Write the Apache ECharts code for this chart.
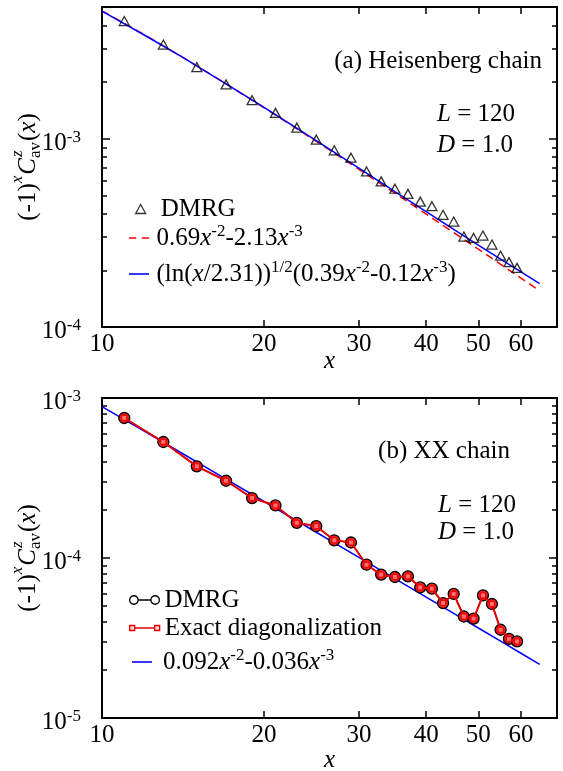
<!DOCTYPE html>
<html><head><meta charset="utf-8">
<script src="https://cdn.jsdelivr.net/npm/echarts@6/dist/echarts.min.js"></script>
<style>html,body{margin:0;padding:0;background:#fff}#c{width:563px;height:771px}</style>
</head><body><div id="c"></div>
<script>
// ---------- data ----------
const sites = [11,13,15,17,19,21,23,25,27,29,31,33,35,37,39,41,43,45,47,49,51,53,55,57,59];
const heisDMRG = [4.21e-3,3.16e-3,2.40e-3,1.94e-3,1.60e-3,1.37e-3,1.144e-3,0.988e-3,0.867e-3,0.792e-3,
  0.670e-3,0.593e-3,0.542e-3,0.509e-3,0.463e-3,0.438e-3,0.394e-3,0.363e-3,0.302e-3,0.297e-3,
  0.306e-3,0.274e-3,0.239e-3,0.221e-3,0.206e-3];
const fitX = [10,12,14,17,20,25,30,35,40,45,50,55,60,65];
const heisFitPower = [4.77e-3,3.559e-3,2.744e-3,1.954e-3,1.459e-3,0.968e-3,0.6878e-3,0.514e-3,0.398e-3,0.3174e-3,0.259e-3,0.2153e-3,0.1818e-3,0.1556e-3];
const heisFitLog = [4.75e-3,3.54e-3,2.74e-3,1.955e-3,1.465e-3,0.975e-3,0.697e-3,0.524e-3,0.410e-3,0.330e-3,0.272e-3,0.229e-3,0.196e-3,0.170e-3];
const xxDMRG = [7.50e-4,5.31e-4,3.74e-4,3.04e-4,2.37e-4,2.13e-4,1.66e-4,1.58e-4,1.29e-4,1.25e-4,
  9.08e-5,7.87e-5,7.61e-5,7.68e-5,6.55e-5,6.43e-5,5.23e-5,5.96e-5,4.31e-5,4.18e-5,
  5.84e-5,5.16e-5,3.56e-5,3.12e-5,3.01e-5];
const xxED = [7.50e-4,5.31e-4,3.74e-4,3.04e-4,2.37e-4,2.13e-4,1.66e-4,1.58e-4,1.29e-4,1.25e-4,
  9.08e-5,7.87e-5,7.61e-5,7.68e-5,6.55e-5,6.43e-5,5.23e-5,5.96e-5,4.31e-5,4.18e-5,
  5.84e-5,5.16e-5,3.56e-5,3.12e-5,3.01e-5];
const xxFit = [8.84e-4,6.18e-4,4.563e-4,3.11e-4,2.255e-4,1.449e-4,1.0089e-4,0.7426e-4,0.5694e-4,0.4503e-4,0.3651e-4,0.3019e-4,0.2539e-4,0.2165e-4];
const xTickLabels = [10,20,30,40,50,60];
const xTickMarks = [20,30,40,50,60];
const yLabelsA = [1e-4,1e-3];
const yMajorA = [1e-3];
const yMinorA = [2e-4,3e-4,4e-4,5e-4,6e-4,7e-4,8e-4,9e-4,2e-3,3e-3,4e-3];
const yLabelsB = [1e-5,1e-4,1e-3];
const yMajorB = [1e-4];
const yMinorB = [2e-5,3e-5,4e-5,5e-5,6e-5,7e-5,8e-5,9e-5,2e-4,3e-4,4e-4,5e-4,6e-4,7e-4,8e-4,9e-4];

// ---------- helpers ----------
const F = 'Liberation Serif';
const L10 = v => Math.log10(v);
const pairs = (xs, ys) => xs.map((x, i) => [x, ys[i]]);
const BLACK = '#000';
const RED = '#ff0000';
const BLUE = '#0000ff';

const xAxes = [], yAxes = [];
function panel(gi, yMin, yMax, yLabels, yMajor, yMinor, nameGap) {
  const xBase = xAxes.length, yBase = yAxes.length;
  const line = {show: true, onZero: false, lineStyle: {color: BLACK, width: 2}};
  const noLine = {show: false};
  xAxes.push({type: 'log', logBase: 10, gridIndex: gi, min: 10, max: 70, position: 'bottom',
    axisLine: line, axisTick: {show: false}, axisLabel: {show: false}, splitLine: {show: false},
    name: 'x', nameLocation: 'middle', nameGap: nameGap,
    nameTextStyle: {fontFamily: F, fontStyle: 'italic', fontSize: 25, color: BLACK}});
  xAxes.push({type: 'value', gridIndex: gi, min: 1, max: L10(70), position: 'bottom',
    axisLine: noLine, splitLine: {show: false},
    axisTick: {show: true, inside: true, length: 7, customValues: xTickMarks.map(L10), lineStyle: {color: BLACK, width: 1.5}},
    axisLabel: {show: true, customValues: xTickLabels.map(L10), margin: 5,
      formatter: v => String(Math.round(Math.pow(10, v))),
      fontFamily: F, fontSize: 25, color: BLACK}});
  xAxes.push({type: 'value', gridIndex: gi, min: 1, max: L10(70), position: 'top',
    axisLine: line, splitLine: {show: false}, axisLabel: {show: false},
    axisTick: {show: true, inside: true, length: 7, customValues: xTickMarks.map(L10), lineStyle: {color: BLACK, width: 1.5}}});
  yAxes.push({type: 'log', logBase: 10, gridIndex: gi, min: yMin, max: yMax, position: 'left',
    axisLine: line, axisTick: {show: false}, axisLabel: {show: false}, splitLine: {show: false}});
  const vmin = L10(yMin), vmax = L10(yMax);
  const tickAxis = (pos, vals, len, labels) => ({type: 'value', gridIndex: gi, min: vmin, max: vmax, position: pos,
    axisLine: pos === 'right' && len === 8 ? line : noLine, splitLine: {show: false},
    axisTick: {show: true, inside: true, length: len, customValues: vals.map(L10), lineStyle: {color: BLACK, width: 1.5}},
    axisLabel: labels ? {show: true, customValues: labels.map(L10), margin: 21, padding: [9, 0, 0, 0],
      formatter: v => '{n|10}{s|' + Math.round(v) + '}',
      rich: {n: {fontFamily: F, fontSize: 25, color: BLACK, lineHeight: 28},
             s: {fontFamily: F, fontSize: 17, color: BLACK, verticalAlign: 'top', lineHeight: 17}}} : {show: false}});
  yAxes.push(tickAxis('left', yMajor, 8, yLabels));
  yAxes.push(tickAxis('left', yMinor, 5, null));
  yAxes.push(tickAxis('right', yMajor, 8, null));
  yAxes.push(tickAxis('right', yMinor, 5, null));
  return {x: xBase, y: yBase};
}
const A = panel(0, 1e-4, 5e-3, yLabelsA, yMajorA, yMinorA, 22);
const B = panel(1, 1e-5, 1e-3, yLabelsB, yMajorB, yMinorB, 30);

const series = [
  {name: 'fitA1', type: 'line', xAxisIndex: A.x, yAxisIndex: A.y, data: pairs(fitX, heisFitPower),
    symbol: 'none', showSymbol: false, z: 2, lineStyle: {color: RED, width: 1.5, type: [8, 5]}, itemStyle: {color: RED}},
  {name: 'fitA2', type: 'line', xAxisIndex: A.x, yAxisIndex: A.y, data: pairs(fitX, heisFitLog),
    symbol: 'none', showSymbol: false, z: 3, lineStyle: {color: BLUE, width: 1.5}, itemStyle: {color: BLUE}},
  {name: 'DMRGa', type: 'scatter', xAxisIndex: A.x, yAxisIndex: A.y, data: pairs(sites, heisDMRG),
    symbol: 'triangle', symbolSize: [10, 9], z: 4,
    itemStyle: {color: 'rgba(255,255,255,0)', borderColor: BLACK, borderWidth: 1.3}},
  {name: 'fitB', type: 'line', xAxisIndex: B.x, yAxisIndex: B.y, data: pairs(fitX, xxFit),
    symbol: 'none', showSymbol: false, z: 2, lineStyle: {color: BLUE, width: 1.5}, itemStyle: {color: BLUE}},
  {name: 'DMRGb', type: 'line', xAxisIndex: B.x, yAxisIndex: B.y, data: pairs(sites, xxDMRG),
    symbol: 'circle', symbolSize: 11, showAllSymbol: true, z: 3,
    lineStyle: {color: BLACK, width: 1.2}, itemStyle: {color: '#f21c1c', borderColor: BLACK, borderWidth: 1.3}},
  {name: 'EDb', type: 'line', xAxisIndex: B.x, yAxisIndex: B.y, data: pairs(sites, xxED),
    symbol: 'rect', symbolSize: 5, showAllSymbol: true, z: 4,
    lineStyle: {color: '#e80000', width: 2}, itemStyle: {color: '#ff7070', borderColor: '#e80000', borderWidth: 1}}
];

const richLegend = {
  n: {fontFamily: F, fontSize: 25, color: BLACK, lineHeight: 30},
  i: {fontFamily: F, fontSize: 25, fontStyle: 'italic', color: BLACK, lineHeight: 30},
  s: {fontFamily: F, fontSize: 17, color: BLACK, verticalAlign: 'top', lineHeight: 17}
};
const legendText = {
  DMRGa: '{n|DMRG}',
  fitA1: '{n|0.69}{i|x}{s|-2}{n|-2.13}{i|x}{s|-3}',
  fitA2: '{n|(ln(}{i|x}{n|/2.31))}{s|1/2}{n|(0.39}{i|x}{s|-2}{n|-0.12}{i|x}{s|-3}{n|)}',
  DMRGb: '{n|DMRG}',
  EDb: '{n|Exact diagonalization}',
  fitB: '{n|0.092}{i|x}{s|-2}{n|-0.036}{i|x}{s|-3}'
};
function leg(name, left, cy, w, h, icon, itemStyle, padLeft) {
  const d = {name: name, itemStyle: itemStyle};
  if (icon) d.icon = icon;
  return {show: true, left: left, top: cy - 15, padding: 0, itemWidth: w, itemHeight: h,
    selectedMode: false, data: [d], formatter: n => legendText[n],
    textStyle: {fontFamily: F, fontSize: 25, color: BLACK, lineHeight: 30, rich: richLegend, padding: [0, 0, 0, padLeft || 0]}};
}
const legends = [
  leg('DMRGa', 135, 209, 10, 9, 'triangle', {color: 'rgba(255,255,255,0)', borderColor: BLACK, borderWidth: 1.3}, 10),
  leg('fitA1', 129, 238, 25, 1.6, 'path://M0,0h9v2h-9zM16,0h9v2h-9z', {color: RED, borderWidth: 0}, 0),
  leg('fitA2', 129, 274, 25, 1.6, 'path://M0,0h25v2h-25z', {color: BLUE, borderWidth: 0}, 0),
  leg('DMRGb', 129, 600, 30, 8.5, 'path://M1,5a4,4 0 1,0 8,0a4,4 0 1,0 -8,0zM21,5a4,4 0 1,0 8,0a4,4 0 1,0 -8,0zM9,5L21,5',
      {color: '#fff', borderColor: BLACK, borderWidth: 1.3}, 0),
  leg('EDb', 129, 628, 30, 5, 'path://M0,0h5v5h-5zM25,0h5v5h-5zM5,2.5L25,2.5',
      {color: '#ffd0d0', borderColor: '#e80000', borderWidth: 1.3}, 0),
  leg('fitB', 132, 662, 24, 1.6, 'path://M0,0h25v2h-25z', {color: BLUE, borderWidth: 0}, 4)
];

// ---------- text annotations ----------
const ctx = document.createElement('canvas').getContext('2d');
const fontStr = (size, italic) => (italic ? 'italic ' : '') + size + 'px "' + F + '"';
const measure = (t, size, italic) => { ctx.font = fontStr(size, italic); return ctx.measureText(t).width; };
function yTitle(cx, cy) {
  const pieces = [];
  let x = 0;
  const add = (t, size, italic, dy) => { pieces.push({t, size, italic, x, dy}); x += measure(t, size, italic); };
  add('(-1)', 25, false, 0);
  add('x', 17, true, -10);
  x += 1;
  add('C', 25, true, 0);
  const zx = x;
  pieces.push({t: 'z', size: 17, italic: true, x: zx + 1, dy: -10});
  pieces.push({t: 'av', size: 17, italic: false, x: zx, dy: 8});
  x += Math.max(measure('z', 17, true) + 1, measure('av', 17, false)) + 1;
  add('(', 25, false, 0); add('x', 25, true, 0); add(')', 25, false, 0);
  const W = x;
  return {type: 'group', x: cx, y: cy, rotation: Math.PI / 2,
    children: pieces.map(p => ({type: 'text', x: p.x - W / 2, y: p.dy,
      style: {text: p.t, font: fontStr(p.size, p.italic), fill: BLACK, align: 'left', verticalAlign: 'middle'}}))};
}
const richAnn = {
  n: {fontFamily: F, fontSize: 25, color: BLACK},
  i: {fontFamily: F, fontSize: 25, fontStyle: 'italic', color: BLACK}
};
function ann(text, x, y, align) {
  return {type: 'text', x: x, y: y, style: {text: text, rich: richAnn, font: fontStr(25, false), fill: BLACK,
    align: align, verticalAlign: 'middle'}};
}
const graphics = [
  yTitle(28, 167), yTitle(28, 558),
  ann('{n|(a) Heisenberg chain}', 542, 61, 'right'),
  ann('{i|L}{n| = 120}', 437, 114, 'left'),
  ann('{i|D}{n| = 1.0}', 437, 145, 'left'),
  ann('{n|(b) XX chain}', 510, 451, 'right'),
  ann('{i|L}{n| = 120}', 438, 505, 'left'),
  ann('{i|D}{n| = 1.0}', 438, 532, 'left')
];

const chart = echarts.init(document.getElementById('c'), null, {renderer: 'canvas'});
chart.setOption({
  animation: false,
  backgroundColor: '#fff',
  grid: [
    {left: 102, top: 7, width: 455, height: 320, outerBoundsMode: 'none'},
    {left: 102, top: 398, width: 455, height: 320, outerBoundsMode: 'none'}
  ],
  xAxis: xAxes,
  yAxis: yAxes,
  legend: legends,
  series: series,
  graphic: graphics
});
</script></body></html>
